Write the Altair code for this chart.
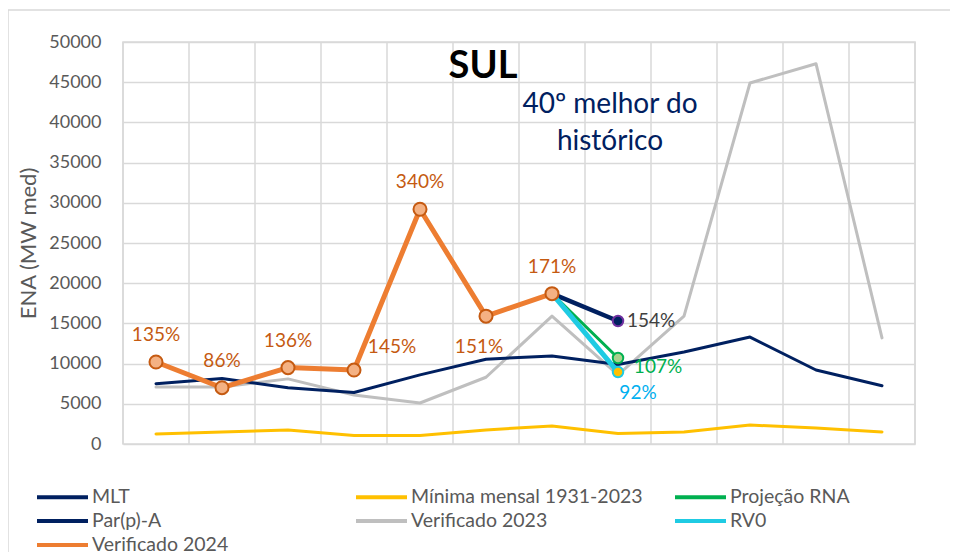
import altair as alt
import pandas as pd

# ---------------- data ----------------
months = ["JAN", "FEV", "MAR", "ABR", "MAI", "JUN", "JUL", "AGO", "SET", "OUT", "NOV", "DEZ"]
mlt = [7500, 8150, 7000, 6400, 8600, 10550, 10950, 9900, 11450, 13300, 9200, 7250]
minima = [1250, 1500, 1750, 1050, 1050, 1750, 2250, 1300, 1500, 2350, 2000, 1500]
ver2023 = [7100, 7100, 8100, 6100, 5100, 8300, 15900, 8600, 15900, 44900, 47300, 13200]

ver2024_months = ["JAN", "FEV", "MAR", "ABR", "MAI", "JUN", "JUL"]
ver2024 = [10200, 7000, 9500, 9200, 29200, 15900, 18700]
ver2024_pct = ["135%", "86%", "136%", "145%", "340%", "151%", "171%"]

proj_months = ["JUL", "AGO"]
par_a = [18700, 15300]
rna = [18700, 10700]
rv0 = [18700, 8950]
par_pct = "154%"
rna_pct = "107%"
rv0_pct = "92%"

series_names = ["MLT", "Mínima mensal 1931-2023", "Projeção RNA", "Par(p)-A",
                "Verificado 2023", "RV0", "Verificado 2024"]
series_colors = ["#002060", "#FFC000", "#00B050", "#002060", "#BFBFBF", "#1FCBE3", "#ED7D31"]

FONT = "Lato"
GRID = "#D9D9D9"
TXT = "#595959"


def frame(name, mlist, vals, pct=None):
    d = pd.DataFrame({"m": [months.index(x) for x in mlist], "v": vals, "series": name})
    if pct is not None:
        d["pct"] = pct
    return d


df_mlt = frame("MLT", months, mlt)
df_min = frame("Mínima mensal 1931-2023", months, minima)
df_23 = frame("Verificado 2023", months, ver2023)
df_24 = frame("Verificado 2024", ver2024_months, ver2024, ver2024_pct)
df_par = frame("Par(p)-A", proj_months, par_a, ["", par_pct])
df_rna = frame("Projeção RNA", proj_months, rna, ["", rna_pct])
df_rv0 = frame("RV0", proj_months, rv0, ["", rv0_pct])

label_js = "[" + ",".join("'%s'" % m for m in months) + "][datum.value]"
x_scale = alt.Scale(domain=[-0.5, len(months) - 0.5], nice=False, zero=False)

X = alt.X("m:Q", scale=x_scale,
          axis=alt.Axis(values=list(range(len(months))), labelExpr=label_js, grid=False,
                        ticks=False, domain=False, title=None, labelFontSize=18,
                        labelColor=TXT, labelFont=FONT, labelPadding=19))
Y = alt.Y("v:Q",
          scale=alt.Scale(domain=[0, 50000], nice=False),
          axis=alt.Axis(values=list(range(0, 50001, 5000)), format="d", grid=True,
                        gridColor=GRID, gridWidth=1.5, ticks=False, domain=False,
                        labelFontSize=18, labelColor=TXT, labelFont=FONT, labelPadding=22,
                        title="ENA (MW med)", titleFontSize=22, titleFontWeight="normal",
                        titleColor=TXT, titleFont=FONT, titlePadding=8))

color_scale = alt.Scale(domain=series_names, range=series_colors)
leg = alt.Legend(title=None)


def line_layer(d, w):
    return alt.Chart(d).mark_line(strokeJoin="round", strokeCap="round", strokeWidth=w).encode(
        x=X, y=Y,
        color=alt.Color("series:N", scale=color_scale, legend=leg),
    )


def point_layer(d, fill, stroke, size):
    return alt.Chart(d).mark_point(filled=True, fill=fill, stroke=stroke, strokeWidth=2,
                                   size=size, opacity=1).encode(x=X, y=Y)


vgrid = alt.Chart(pd.DataFrame({"b": [i - 0.5 for i in range(len(months) + 1)]})).mark_rule(
    color=GRID, strokeWidth=1.5).encode(x=alt.X("b:Q", scale=x_scale, axis=None))

border = alt.Chart(pd.DataFrame({"a": [0]})).mark_rect(
    filled=False, stroke=GRID, strokeWidth=1.5, clip=False).encode(
    x=alt.value(-115), x2=alt.value(900), y=alt.value(-32), y2=alt.value(700))

lines = [line_layer(df_23, 3), line_layer(df_min, 3), line_layer(df_mlt, 3),
         line_layer(df_rna, 3), line_layer(df_par, 4.5), line_layer(df_rv0, 5),
         line_layer(df_24, 5)]

last = lambda d: d[d["m"] == months.index("AGO")]

points = [
    point_layer(last(df_par), "#002060", "#7030A0", 110),
    point_layer(last(df_rna), "#A9D18E", "#00B050", 110),
    point_layer(last(df_rv0), "#FFC000", "#1FCBE3", 110),
    point_layer(df_24, "#F4B183", "#C55A11", 170),
]


def text_layer(d, color, dx=0, dy=0, align="center"):
    return alt.Chart(d).mark_text(color=color, dx=dx, dy=dy, align=align, baseline="middle",
                                  fontSize=19, font=FONT).encode(x=X, y=Y, text="pct:N")


above = df_24[df_24["m"].isin([months.index(x) for x in ["JAN", "FEV", "MAR", "MAI", "JUL"]])]
abr = df_24[df_24["m"] == months.index("ABR")]
jun = df_24[df_24["m"] == months.index("JUN")]

texts = [
    text_layer(above, "#C55A11", dy=-27),
    text_layer(abr, "#C55A11", dx=38, dy=-23),
    text_layer(jun, "#C55A11", dx=-7, dy=31),
    text_layer(last(df_par), "#404040", dx=9, align="left"),
    text_layer(last(df_rna), "#00B050", dx=40, dy=9),
    text_layer(last(df_rv0), "#00B0F0", dx=20, dy=21),
]

title = alt.Chart(pd.DataFrame({"t": ["SUL"]})).mark_text(
    fontSize=38, fontWeight="bold", font=FONT, color="black", align="center",
    baseline="middle").encode(x=alt.value(360), y=alt.value(25), text="t:N")
subtitle = alt.Chart(pd.DataFrame({"t": ["40º melhor do\nhistórico"]})).mark_text(
    fontSize=28, font=FONT, color="#002060", align="center", baseline="middle",
    lineBreak="\n", lineHeight=37).encode(x=alt.value(487), y=alt.value(63), text="t:N")

chart = alt.layer(vgrid, border, *lines, *points, *texts, title, subtitle).properties(
    width=792, height=402,
    autosize=alt.AutoSizeParams(type="none"),
    padding={"left": 115, "top": 34, "right": 35, "bottom": 108},
).configure_view(stroke=GRID, strokeWidth=1.5).configure_legend(
    orient="none", legendX=-98, legendY=443, columns=3, direction="horizontal",
    symbolType="M0,0H5.1", symbolSize=400, symbolStrokeWidth=4, labelFontSize=19.5,
    labelColor=TXT, labelFont=FONT, labelLimit=400, rowPadding=2,
    columnPadding=20, gridAlign="all", labelOffset=43,
)

chart.save("out.html", embed_options={"renderer": "svg", "actions": False})
